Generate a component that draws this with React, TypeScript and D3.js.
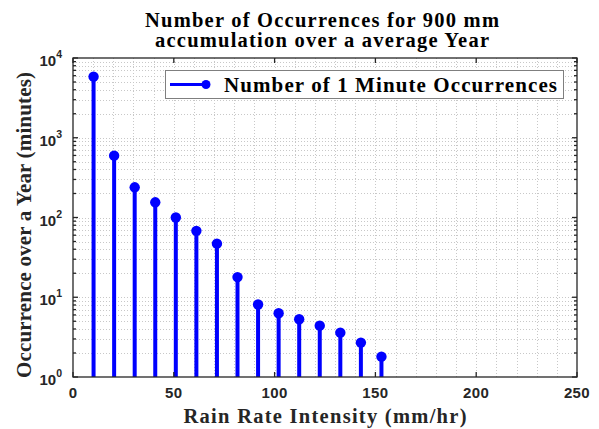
import React, { useEffect, useRef } from "react";
import * as d3 from "d3";

// Rain rate bin centres (mm/hr) and yearly minute counts for 900 mm accumulation
const rainRate = [10.2, 20.4, 30.6, 40.8, 51, 61.2, 71.4, 81.6, 91.8, 102, 112.2, 122.4, 132.6, 142.8, 153];
const occurrences = [5830, 596, 239, 155, 100, 68, 47, 17.9, 8.1, 6.3, 5.3, 4.4, 3.6, 2.7, 1.8];

const xTicks = [0, 50, 100, 150, 200, 250];
const yExponents = [0, 1, 2, 3, 4];

const titleLines = ["Number of Occurrences for 900 mm", "accumulation over a average Year"];
const xLabel = "Rain Rate Intensity (mm/hr)";
const yLabel = "Occurrence over a Year (minutes)";
const legendLabel = "Number of 1 Minute Occurrences";

const W = 599;
const H = 429;
const M = { left: 73, right: 577, top: 58, bottom: 377 };

const serif = "'Liberation Serif', 'Times New Roman', serif";
const sans = "'Liberation Sans', Arial, sans-serif";
const axisColor = "#262626";
const blue = "#0000ff";

export default function App() {
  const ref = useRef<SVGSVGElement | null>(null);

  useEffect(() => {
    const svg = d3.select(ref.current);
    svg.selectAll("*").remove();

    const x = d3.scaleLinear().domain([0, 250]).range([M.left, M.right]);
    const y = d3.scaleLog().domain([1, 1e4]).range([M.bottom, M.top]);

    svg.append("rect").attr("width", W).attr("height", H).attr("fill", "#fff");

    // Grid: minor vertical every 10, minor horizontal 2..9 per decade
    const grid = svg.append("g").attr("stroke", "#c8c8c8").attr("stroke-width", 1)
      .attr("stroke-dasharray", "1,2").attr("shape-rendering", "crispEdges");
    d3.range(10, 250, 10).forEach((v) => {
      grid.append("line").attr("x1", Math.round(x(v)) + 0.5).attr("x2", Math.round(x(v)) + 0.5)
        .attr("y1", M.top).attr("y2", M.bottom);
    });
    const yMinor: number[] = [];
    for (let e = 0; e < 4; e++) for (let m = 1; m <= 9; m++) { if (!(e === 0 && m === 1)) yMinor.push(m * Math.pow(10, e)); }
    yMinor.forEach((v) => {
      grid.append("line").attr("x1", M.left).attr("x2", M.right)
        .attr("y1", Math.round(y(v)) + 0.5).attr("y2", Math.round(y(v)) + 0.5);
    });

    // Stems and markers
    const stems = svg.append("g");
    rainRate.forEach((r, i) => {
      stems.append("line").attr("x1", x(r)).attr("x2", x(r))
        .attr("y1", y(1)).attr("y2", y(occurrences[i]))
        .attr("stroke", blue).attr("stroke-width", 4);
    });
    rainRate.forEach((r, i) => {
      stems.append("circle").attr("cx", x(r)).attr("cy", y(occurrences[i])).attr("r", 5.2).attr("fill", blue);
    });

    // Axes box
    const ax = svg.append("g").attr("stroke", axisColor).attr("stroke-width", 1.3).attr("fill", "none");
    ax.append("rect").attr("x", M.left).attr("y", M.top)
      .attr("width", M.right - M.left).attr("height", M.bottom - M.top);

    // Tick marks on all four sides
    const tk = 5;
    xTicks.forEach((v) => {
      ax.append("line").attr("x1", x(v)).attr("x2", x(v)).attr("y1", M.bottom).attr("y2", M.bottom - tk);
      ax.append("line").attr("x1", x(v)).attr("x2", x(v)).attr("y1", M.top).attr("y2", M.top + tk);
    });
    yExponents.forEach((e) => {
      const v = Math.pow(10, e);
      ax.append("line").attr("x1", M.left).attr("x2", M.left + tk).attr("y1", y(v)).attr("y2", y(v));
      ax.append("line").attr("x1", M.right).attr("x2", M.right - tk).attr("y1", y(v)).attr("y2", y(v));
    });
    yMinor.forEach((v) => {
      if (Number.isInteger(Math.log10(v))) return;
      ax.append("line").attr("x1", M.left).attr("x2", M.left + 3).attr("y1", y(v)).attr("y2", y(v));
      ax.append("line").attr("x1", M.right).attr("x2", M.right - 3).attr("y1", y(v)).attr("y2", y(v));
    });

    // Tick labels
    xTicks.forEach((v) => {
      svg.append("text").attr("x", x(v)).attr("y", 398).attr("text-anchor", "middle")
        .attr("font-family", sans).attr("font-weight", "bold").attr("font-size", 15)
        .attr("letter-spacing", 0.4).attr("fill", axisColor).text(String(v));
    });
    yExponents.forEach((e) => {
      const t = svg.append("text").attr("x", 62).attr("y", y(Math.pow(10, e)) + 8).attr("text-anchor", "end")
        .attr("font-family", sans).attr("font-weight", "bold").attr("font-size", 15).attr("fill", axisColor);
      t.append("tspan").text("10");
      t.append("tspan").attr("dy", -8).attr("font-size", 10.5).text(String(e));
    });

    // Title
    const titleWidths = [354, 334];
    titleLines.forEach((line, i) => {
      svg.append("text").attr("x", 322 - titleWidths[i] / 2).attr("y", 27 + i * 20)
        .attr("textLength", titleWidths[i]).attr("lengthAdjust", "spacing")
        .attr("font-family", serif).attr("font-weight", "bold")
        .attr("font-size", 20.5).attr("fill", "#000").text(line);
    });

    // Axis labels
    svg.append("text").attr("x", 325 - 283 / 2).attr("y", 423)
      .attr("textLength", 283).attr("lengthAdjust", "spacing")
      .attr("font-family", serif).attr("font-weight", "bold").attr("font-size", 20.5)
      .attr("fill", axisColor).text(xLabel);
    svg.append("text").attr("transform", `translate(31,${225 + 306 / 2}) rotate(-90)`)
      .attr("textLength", 306).attr("lengthAdjust", "spacing")
      .attr("font-family", serif).attr("font-weight", "bold")
      .attr("font-size", 21).attr("fill", axisColor).text(yLabel);

    // Legend
    const lg = svg.append("g");
    lg.append("rect").attr("x", 165.5).attr("y", 70.5).attr("width", 398).attr("height", 28)
      .attr("fill", "#fff").attr("stroke", "#7f7f7f").attr("stroke-width", 1);
    lg.append("line").attr("x1", 170).attr("x2", 207).attr("y1", 84.5).attr("y2", 84.5)
      .attr("stroke", blue).attr("stroke-width", 3);
    lg.append("circle").attr("cx", 206).attr("cy", 84.5).attr("r", 4.5).attr("fill", blue);
    lg.append("text").attr("x", 224).attr("y", 91.5)
      .attr("textLength", 333).attr("lengthAdjust", "spacing")
      .attr("font-family", serif).attr("font-weight", "bold")
      .attr("font-size", 21).attr("fill", "#000").text(legendLabel);
  }, []);

  return (
    <svg ref={ref} width={W} height={H} style={{ display: "block", position: "absolute", left: 0, top: 0 }} />
  );
}
